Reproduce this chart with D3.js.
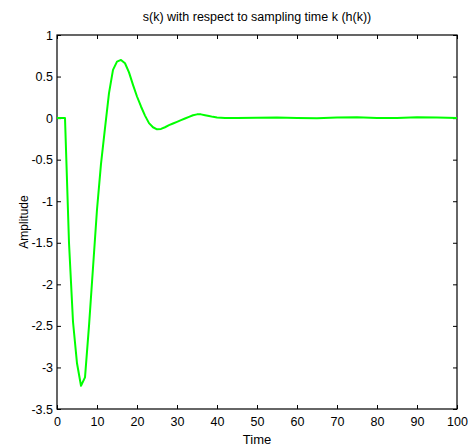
<!DOCTYPE html>
<html>
<head>
<meta charset="utf-8">
<script src="https://cdn.jsdelivr.net/npm/d3@7"></script>
<style>
    body { margin: 0; background: #fff; }
    text { font-family: "Liberation Sans", Arial, sans-serif; fill: #000; }
</style>
</head>
<body>
<div id="chart"></div>
<script>

// sampling time k and response s(k)
const timeSteps = [0, 1, 2, 3, 4, 5, 6, 7, 8, 9, 10, 11, 12, 13, 14, 15, 16, 17, 18, 19, 20,
    21, 22, 23, 24, 25, 26, 27, 28, 29, 30, 31, 32, 33, 34, 35, 36, 37, 38, 39, 40,
    42, 45, 50, 55, 60, 65, 70, 75, 80, 85, 90, 95, 100];
const amplitude = [0, 0, 0, -1.5, -2.45, -2.95, -3.22, -3.12, -2.5, -1.8, -1.1, -0.55, -0.12, 0.3, 0.58, 0.68, 0.70, 0.66, 0.55, 0.40, 0.26,
    0.14, 0.03, -0.06, -0.11, -0.135, -0.13, -0.11, -0.085, -0.065, -0.045, -0.025, -0.005, 0.015, 0.035, 0.045, 0.045, 0.035, 0.025, 0.015, 0.008,
    0.002, 0.0, 0.005, 0.008, 0.0, -0.003, 0.008, 0.01, 0.0, 0.0, 0.01, 0.008, 0.0];

const xTicks = [0, 10, 20, 30, 40, 50, 60, 70, 80, 90, 100];
const yTicks = [1, 0.5, 0, -0.5, -1, -1.5, -2, -2.5, -3, -3.5];

const title = "s(k) with respect to sampling time k (h(k))";
const xLabel = "Time";
const yLabel = "Amplitude";

const width = 468, height = 448;
const margin = {top: 35, right: 10, bottom: 39, left: 57};

const svg = d3.select("#chart")
    .append("svg")
        .attr("width", width)
        .attr("height", height);

const x = d3.scaleLinear()
    .domain([0, 100])
    .range([margin.left, width - margin.right - 1]);

const y = d3.scaleLinear()
    .domain([-3.5, 1])
    .range([height - margin.bottom, margin.top]);

const tickLen = 4;
const plain = d => String(d);   // matlab style: "1", "0.5", "-3.5"

// frame
svg.append("rect")
    .attr("x", x(0))
    .attr("y", y(1))
    .attr("width", x(100) - x(0))
    .attr("height", y(-3.5) - y(1))
    .attr("fill", "none")
    .attr("stroke", "#000")
    .attr("stroke-width", 1.2);

// bottom axis, ticks pointing in
svg.append("g")
    .attr("transform", `translate(0,${y(-3.5)})`)
    .call(d3.axisBottom(x).tickValues(xTicks).tickFormat(plain).tickSize(-tickLen).tickPadding(tickLen + 4))
    .call(g => g.select(".domain").remove())
    .call(g => g.selectAll("text").attr("font-size", 12.5));

// top ticks
svg.append("g")
    .attr("transform", `translate(0,${y(1)})`)
    .call(d3.axisTop(x).tickValues(xTicks).tickSize(-tickLen).tickFormat(""))
    .call(g => g.select(".domain").remove());

// left axis
svg.append("g")
    .attr("transform", `translate(${x(0)},0)`)
    .call(d3.axisLeft(y).tickValues(yTicks).tickFormat(plain).tickSize(-tickLen).tickPadding(4))
    .call(g => g.select(".domain").remove())
    .call(g => g.selectAll("text").attr("font-size", 12.5));

// right ticks
svg.append("g")
    .attr("transform", `translate(${x(100)},0)`)
    .call(d3.axisRight(y).tickValues(yTicks).tickSize(-tickLen).tickFormat(""))
    .call(g => g.select(".domain").remove());

const line = d3.line()
    .x((d, i) => x(timeSteps[i]))
    .y(d => y(d));

svg.append("path")
    .datum(amplitude)
    .attr("d", line)
    .attr("fill", "none")
    .attr("stroke", "#00ff00")
    .attr("stroke-width", 2)
    .attr("stroke-linejoin", "round");

svg.append("text")
    .attr("x", (x(0) + x(100)) / 2)
    .attr("y", 21)
    .attr("text-anchor", "middle")
    .attr("font-size", 12.5)
    .text(title);

svg.append("text")
    .attr("x", (x(0) + x(100)) / 2)
    .attr("y", 444)
    .attr("text-anchor", "middle")
    .attr("font-size", 13)
    .text(xLabel);

svg.append("text")
    .attr("transform", `translate(28,${(y(1) + y(-3.5)) / 2}) rotate(-90)`)
    .attr("text-anchor", "middle")
    .attr("font-size", 12)
    .text(yLabel);

</script>
</body>
</html>
